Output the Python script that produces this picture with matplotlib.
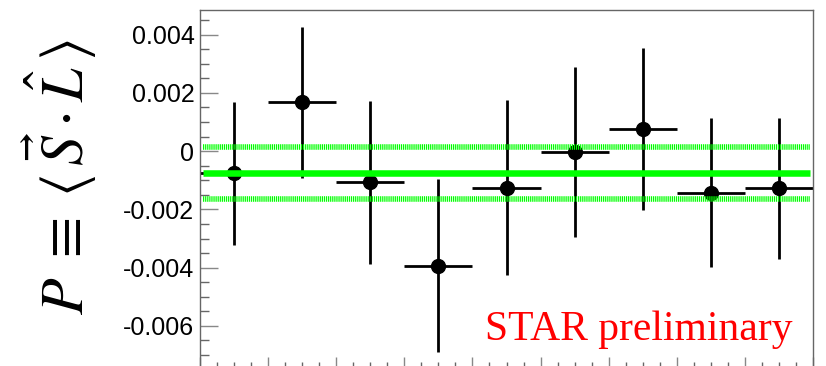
import numpy as np
import matplotlib
matplotlib.use("Agg")
import matplotlib.pyplot as plt
from matplotlib.ticker import MultipleLocator, FuncFormatter

# polarization per bin
bin_centers = [0.5, 1.5, 2.5, 3.5, 4.5, 5.5, 6.5, 7.5, 8.5]
polarization = [-0.00076, 0.00167, -0.00107, -0.00393, -0.00126, -0.00003, 0.00075, -0.00143, -0.00128]
pol_err = [0.00245, 0.0026, 0.0028, 0.00297, 0.003, 0.00292, 0.00278, 0.00255, 0.00242]
bin_half_width = [0.5] * 9

# fitted constant and its uncertainty
fit_mean = -0.00075
fit_err = 0.0009

plt.rcParams['lines.scale_dashes'] = False
plt.rcParams['mathtext.fontset'] = 'stix'

fig = plt.figure(figsize=(8.26, 3.66), dpi=100)
ax = fig.add_axes([200 / 826, -1 / 366, 613 / 826, 357.5 / 366])

ax.errorbar(bin_centers, polarization, yerr=pol_err, xerr=bin_half_width,
            fmt='o', color='black', ms=10, elinewidth=2.0, capsize=0, zorder=2)

x0, x1 = 0.045, 8.955
ax.plot([x0, x1], [fit_mean, fit_mean], color='#00ff00', lw=4.7, zorder=3,
        solid_capstyle='butt')
for off in (fit_err, -fit_err):
    ax.plot([x0, x1], [fit_mean + off, fit_mean + off], color='#00ff00', lw=4.0,
            dashes=(0.9, 0.6), zorder=3, dash_capstyle='butt')

ax.set_xlim(0, 9)
ax.set_ylim(-0.00741, 0.00486)

ax.xaxis.set_major_locator(MultipleLocator(1))
ax.xaxis.set_minor_locator(MultipleLocator(0.25))
ax.yaxis.set_major_locator(MultipleLocator(0.002))
ax.yaxis.set_minor_locator(MultipleLocator(0.0005))
ax.yaxis.set_major_formatter(FuncFormatter(lambda v, p: f"{round(v, 6):g}"))
ax.set_xticklabels([])

ax.tick_params(axis='y', which='major', length=13, width=1, color='#888888',
               labelsize=18, pad=4, direction='in')
ax.tick_params(axis='y', which='minor', length=6.5, width=1, color='#666666',
               direction='in')
ax.tick_params(axis='x', which='major', length=7, width=1, color='#888888',
               direction='in', labelbottom=False)
ax.tick_params(axis='x', which='minor', length=3.6, width=1, color='#666666',
               direction='in')
for t in ax.get_yticklabels():
    t.set_family('Liberation Sans')

for s in ax.spines.values():
    s.set_color('#666666')
    s.set_linewidth(1)

ax.text(0.967, 0.076, 'STAR preliminary', transform=ax.transAxes, color='red',
        fontsize=30, family='Liberation Serif', ha='right', va='baseline')

fig.text(60 / 826, 1 - 177 / 366,
         r'$P\;\equiv\;\langle\,\vec{S}\cdot\hat{L}\,\rangle$',
         rotation=90, fontsize=43, ha='center', va='center')

fig.savefig('out.png', dpi=100)
